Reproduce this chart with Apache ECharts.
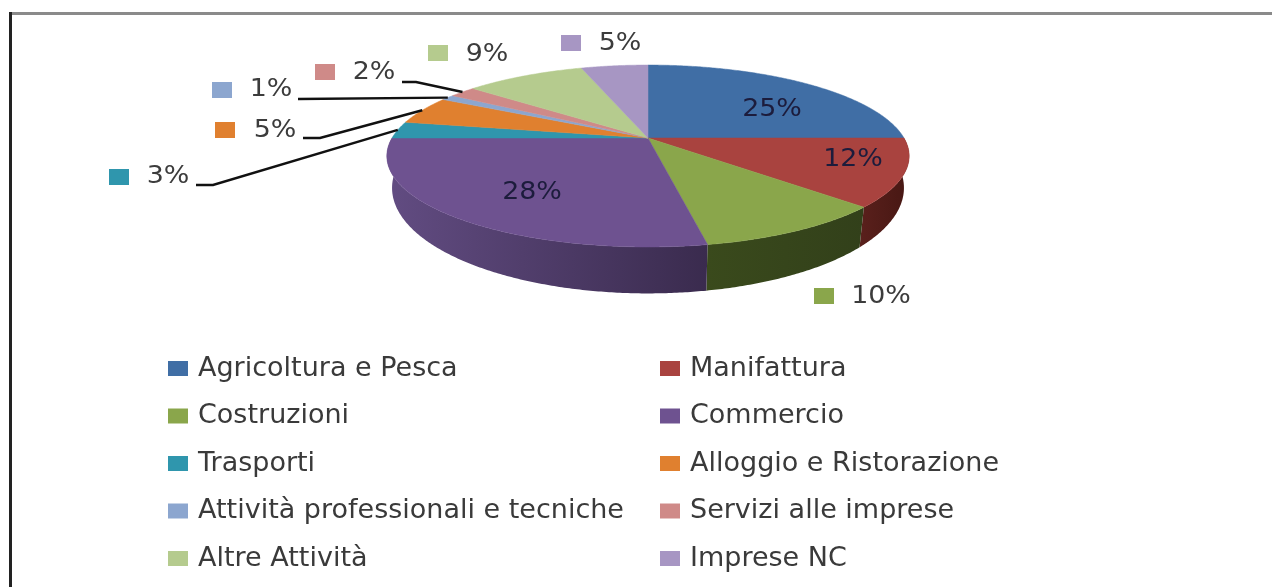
<!DOCTYPE html>
<html>
<head>
<meta charset="utf-8">
<style>html,body{margin:0;padding:0;background:#fff}#c{width:1272px;height:587px}</style>
<script src="https://cdn.jsdelivr.net/npm/echarts@6/dist/echarts.min.js"></script>
</head>
<body>
<div id="c"></div>
<script>
const categories = ['Agricoltura e Pesca','Manifattura','Costruzioni','Commercio','Trasporti','Alloggio e Ristorazione','Attività professionali e tecniche','Servizi alle imprese','Altre Attività','Imprese NC'];
const values = [25,12,10,28,3,5,1,2,9,5];
const colors = ['#406ea5','#a9433f','#8aa64b','#6e5290','#2f96ad','#e0802f','#8ca6cf','#cf8a88','#b5cb8e','#a796c3'];
const wallColors = [null,['#5a201c','#471713'],['#3a4a1c','#32401a'],['#624c82','#3a2b4e'],null,null,null,null,null,null];

// Perspective disc
const hub = {x:648,y:138}, persp = {c:256,a:87.4,b:-0.198}, wall = {k:1.16,d:29,sx:0.98};
const total = values.reduce((s,v)=>s+v,0);
const starts = []; values.reduce((s,v,i)=>(starts[i]=s,s+v),0);
function rim(t){ // t = share of the whole turn, clockwise from the top
  const th=t*2*Math.PI, u=Math.sin(th), v=-Math.cos(th), den=1+persp.b*v;
  return [persp.c*u/den, persp.a*v/den];
}
const topRim=t=>{const p=rim(t);return [hub.x+p[0],hub.y+p[1]];};
const botRim=t=>{const p=rim(t);return [hub.x+p[0]*wall.sx,hub.y+p[1]*wall.k+wall.d];};

// Label placement: text centre, swatch centre, leader start/elbow
const inside = {0:[772,110],1:[853,160],3:[532,193]};
const outside = {
  2:{text:[881,297],key:[824,296]},
  4:{text:[168,177],key:[119,177],lead:[[196,185],[213,185]]},
  5:{text:[275,131],key:[225,130],lead:[[303,138],[320,138]]},
  6:{text:[271,90],key:[222,90],lead:[[298,99]]},
  7:{text:[374,73],key:[325,72],lead:[[402,82],[416,82]]},
  8:{text:[487,55],key:[438,53]},
  9:{text:[620,44],key:[571,43]}
};
const FONT = '"DejaVu Sans"';

function render(i){
  return function(params,api){
    const s=starts[i]/total, e=(starts[i]+values[i])/total, kids=[];
    const n=Math.max(4,Math.ceil((e-s)*720)), ts=[];
    for(let j=0;j<=n;j++) ts.push(s+(e-s)*j/n);
    if(wallColors[i]){
      const pts=ts.map(topRim).concat(ts.slice().reverse().map(botRim));
      kids.push({type:'polygon',z2:1,shape:{points:pts},
        style:{fill:new echarts.graphic.LinearGradient(0,0,1,0,[{offset:0,color:wallColors[i][0]},{offset:1,color:wallColors[i][1]}])}});
    }
    kids.push({type:'polygon',z2:10,shape:{points:[[hub.x,hub.y]].concat(ts.map(topRim))},
      style:{fill:colors[i],stroke:colors[i],lineWidth:0.5}});
    const label=values[i]+'%';
    if(inside[i]){
      kids.push({type:'text',z2:20,x:inside[i][0],y:inside[i][1],scaleX:1.12,
        style:{text:label,font:'24px '+FONT,fill:'#1c1c3c',align:'center',verticalAlign:'middle'}});
    }
    const o=outside[i];
    if(o){
      kids.push({type:'rect',z2:20,shape:{x:o.key[0]-10,y:o.key[1]-8,width:20,height:16},style:{fill:colors[i]}});
      kids.push({type:'text',z2:20,x:o.text[0],y:o.text[1],scaleX:1.12,
        style:{text:label,font:'24px '+FONT,fill:'#3c3c3c',align:'center',verticalAlign:'middle'}});
      if(o.lead){
        kids.push({type:'polyline',z2:21,shape:{points:o.lead.concat([topRim((s+e)/2)])},
          style:{stroke:'#111',lineWidth:2.4,fill:null}});
      }
    }
    return {type:'group',children:kids};
  };
}

const chart = echarts.init(document.getElementById('c'),null,{renderer:'canvas'});
const legendBase = {orient:'vertical',icon:'rect',itemWidth:20,itemHeight:15,itemGap:20.5,selectedMode:false,
  padding:0,textStyle:{fontFamily:FONT,fontSize:27,color:'#3a3a3a',padding:[0,0,0,5]}};
chart.setOption({
  backgroundColor:'#fff',
  animation:false,
  legend:[
    Object.assign({},legendBase,{left:168,top:355,data:categories.filter((c,i)=>i%2===0)}),
    Object.assign({},legendBase,{left:660,top:355,data:categories.filter((c,i)=>i%2===1)})
  ],
  graphic:[
    {type:'rect',silent:true,shape:{x:10,y:12,width:1262,height:3},style:{fill:'#8a8a8a'}},
    {type:'rect',silent:true,shape:{x:9,y:12,width:3,height:575},style:{fill:'#222'}}
  ],
  series:categories.map((name,i)=>({
    type:'custom',name,coordinateSystem:'none',silent:true,clip:false,
    itemStyle:{color:colors[i]},
    data:[values[i]],
    renderItem:render(i)
  }))
});
</script>
</body>
</html>
